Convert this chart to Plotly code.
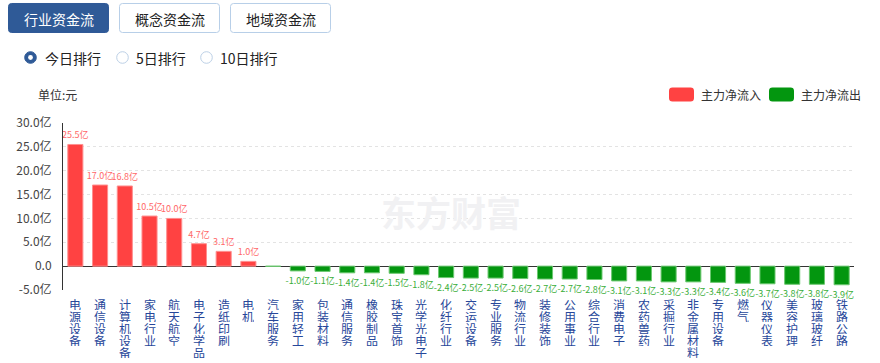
import plotly.graph_objects as go

categories = ["电源设备", "通信设备", "计算机设备", "家电行业", "航天航空", "电子化学品", "造纸印刷", "电机",
              "汽车服务", "家用轻工", "包装材料", "通信服务", "橡胶制品", "珠宝首饰", "光学光电子", "化纤行业",
              "交运设备", "专业服务", "物流行业", "装修装饰", "公用事业", "综合行业", "消费电子", "农药兽药",
              "采掘行业", "非金属材料", "专用设备", "燃气", "仪器仪表", "美容护理", "玻璃玻纤", "铁路公路"]
net_flow = [25.5, 17.0, 16.8, 10.5, 10.0, 4.7, 3.1, 1.0,
            -0.04, -1.0, -1.1, -1.4, -1.4, -1.5, -1.8, -2.4,
            -2.5, -2.5, -2.6, -2.7, -2.7, -2.8, -3.1, -3.1,
            -3.3, -3.3, -3.4, -3.6, -3.7, -3.8, -3.8, -3.9]
y_tickvals = [-5, 0, 5, 10, 15, 20, 25, 30]
y_ticktext = ["-5.0亿", "0.0", "5.0亿", "10.0亿", "15.0亿", "20.0亿", "25.0亿", "30.0亿"]
tab_labels = ["行业资金流", "概念资金流", "地域资金流"]
radio_labels = ["今日排行", "5日排行", "10日排行"]
legend_labels = ["主力净流入", "主力净流出"]

FONT = "Noto Sans CJK SC, Noto Sans, sans-serif"
RED, RED_EDGE, RED_TXT = "#ff4242", "#ff8f8f", "#ff6868"
GREEN, GREEN_EDGE, GREEN_TXT = "#03960f", "#6cc870", "#3aae3a"
LABEL_BLUE = "#27479a"

W, H = 880, 363
ML, MR, MT, MB = 63, 26, 123, 73
PW, PH = W - ML - MR, H - MT - MB


def px(x):
    return (x - ML) / PW


def py(y):
    return (H - MB - y) / PH


def rrect(x0, y0, x1, y1, r):
    pts = [("M", x0 + r, y0), ("L", x1 - r, y0), ("Q", x1, y0, x1, y0 + r), ("L", x1, y1 - r),
           ("Q", x1, y1, x1 - r, y1), ("L", x0 + r, y1), ("Q", x0, y1, x0, y1 - r), ("L", x0, y0 + r),
           ("Q", x0, y0, x0 + r, y0)]
    s = ""
    for p in pts:
        if p[0] == "Q":
            s += f"Q{px(p[1]):.5f},{py(p[2]):.5f} {px(p[3]):.5f},{py(p[4]):.5f} "
        else:
            s += f"{p[0]}{px(p[1]):.5f},{py(p[2]):.5f} "
    return s + "Z"


colors = [RED if v > 0 else GREEN for v in net_flow]
edges = [RED_EDGE if v > 0 else GREEN_EDGE for v in net_flow]
tcolors = [RED_TXT if v > 0 else GREEN_TXT for v in net_flow]
texts = [f"{v:.1f}亿" if abs(v) >= 0.05 else "" for v in net_flow]

fig = go.Figure()
fig.add_trace(go.Bar(
    x=categories, y=net_flow, marker=dict(color=colors, line=dict(color=edges, width=1)),
    text=texts, textposition="outside", textfont=dict(size=9, color=tcolors, family=FONT),
    constraintext="none", cliponaxis=False, showlegend=False, hoverinfo="x+y"))

shapes = []
annotations = []

# tabs
tab_x = [(8, 109), (119, 220), (230, 331)]
for i, (lab, (x0, x1)) in enumerate(zip(tab_labels, tab_x)):
    sel = i == 0
    shapes.append(dict(type="path", path=rrect(x0 + 0.5, 3.5, x1 - 0.5, 32.5, 3), xref="paper", yref="paper",
                       fillcolor="#2f5a97" if sel else "#ffffff",
                       line=dict(color="#2f5a97" if sel else "#b8cfe8", width=1)))
    annotations.append(dict(text=lab, x=px((x0 + x1) / 2), y=py(18.5), xref="paper", yref="paper",
                            showarrow=False, xanchor="center", yanchor="middle",
                            font=dict(size=14, color="#ffffff" if sel else "#222222", family=FONT)))

# radios
radio_cx = [30.5, 122.5, 206.5]
radio_tx = [43, 134, 218]
for i, (lab, cx, tx) in enumerate(zip(radio_labels, radio_cx, radio_tx)):
    cy, r = 57.5, 5.8
    if i == 0:
        shapes.append(dict(type="circle", xref="paper", yref="paper", x0=px(cx - r), x1=px(cx + r),
                           y0=py(cy + r), y1=py(cy - r), fillcolor="#2f5a97", line=dict(color="#2f5a97", width=1)))
        r2 = 2.4
        shapes.append(dict(type="circle", xref="paper", yref="paper", x0=px(cx - r2), x1=px(cx + r2),
                           y0=py(cy + r2), y1=py(cy - r2), fillcolor="#ffffff", line=dict(width=0)))
    else:
        shapes.append(dict(type="circle", xref="paper", yref="paper", x0=px(cx - r), x1=px(cx + r),
                           y0=py(cy + r), y1=py(cy - r), fillcolor="#ffffff", line=dict(color="#bcd0e6", width=1)))
    annotations.append(dict(text=lab, x=px(tx), y=py(cy), xref="paper", yref="paper", showarrow=False,
                            xanchor="left", yanchor="middle", font=dict(size=14, color="#222222", family=FONT)))

# unit
annotations.append(dict(text="单位:元", x=px(36), y=py(94.5), xref="paper", yref="paper", showarrow=False,
                        xanchor="left", yanchor="middle", font=dict(size=12, color="#333333", family=FONT)))

# legend
leg = [(669, 699, RED), (769, 799, GREEN)]
for lab, (x0, tx, col) in zip(legend_labels, leg):
    shapes.append(dict(type="path", path=rrect(x0, 87.5, x0 + 25, 101.5, 3.5), xref="paper", yref="paper",
                       fillcolor=col, line=dict(width=0)))
    annotations.append(dict(text=lab, x=px(tx), y=py(94.5), xref="paper", yref="paper", showarrow=False,
                            xanchor="left", yanchor="middle", font=dict(size=12, color="#333333", family=FONT)))

# watermark
annotations.append(dict(text="<b>东方财富</b>", x=px(451), y=py(211), xref="paper", yref="paper",
                        showarrow=False, xanchor="center", yanchor="middle",
                        font=dict(size=35, color="#f1f1f3", family=FONT)))

# vertical category labels
for cat in categories:
    for j, ch in enumerate(cat):
        annotations.append(dict(text=ch, x=cat, xref="x", y=0, yref="paper", showarrow=False,
                                xanchor="center", yanchor="middle", yshift=-(13.5 + 12 * j),
                                height=12, valign="middle",
                                font=dict(size=12, color=LABEL_BLUE, family=FONT)))

fig.update_layout(
    width=W, height=H, margin=dict(l=ML, r=MR, t=MT, b=MB, autoexpand=False),
    paper_bgcolor="#ffffff", plot_bgcolor="#ffffff",
    bargap=0.39, shapes=shapes, annotations=annotations,
    font=dict(family=FONT, size=12, color="#333333"),
    xaxis=dict(showticklabels=False, showgrid=False, showline=False, zeroline=False, ticks="",
               range=[-0.5, len(categories) - 0.5], fixedrange=True),
    yaxis=dict(range=[-5, 30], tickvals=y_tickvals, ticktext=y_ticktext, showgrid=True,
               gridcolor="#e3e3e3", griddash="dot", gridwidth=1, zeroline=True, zerolinecolor="#333333",
               zerolinewidth=1, showline=True, linecolor="#333333", linewidth=1, ticks="",
               ticklabelstandoff=8, tickfont=dict(size=12, color="#444444", family=FONT),
               automargin=False, fixedrange=True),
)

fig.write_html("out.html", config={"displayModeBar": False},
               post_script="document.body.style.margin='0';document.body.style.overflow='hidden';")
